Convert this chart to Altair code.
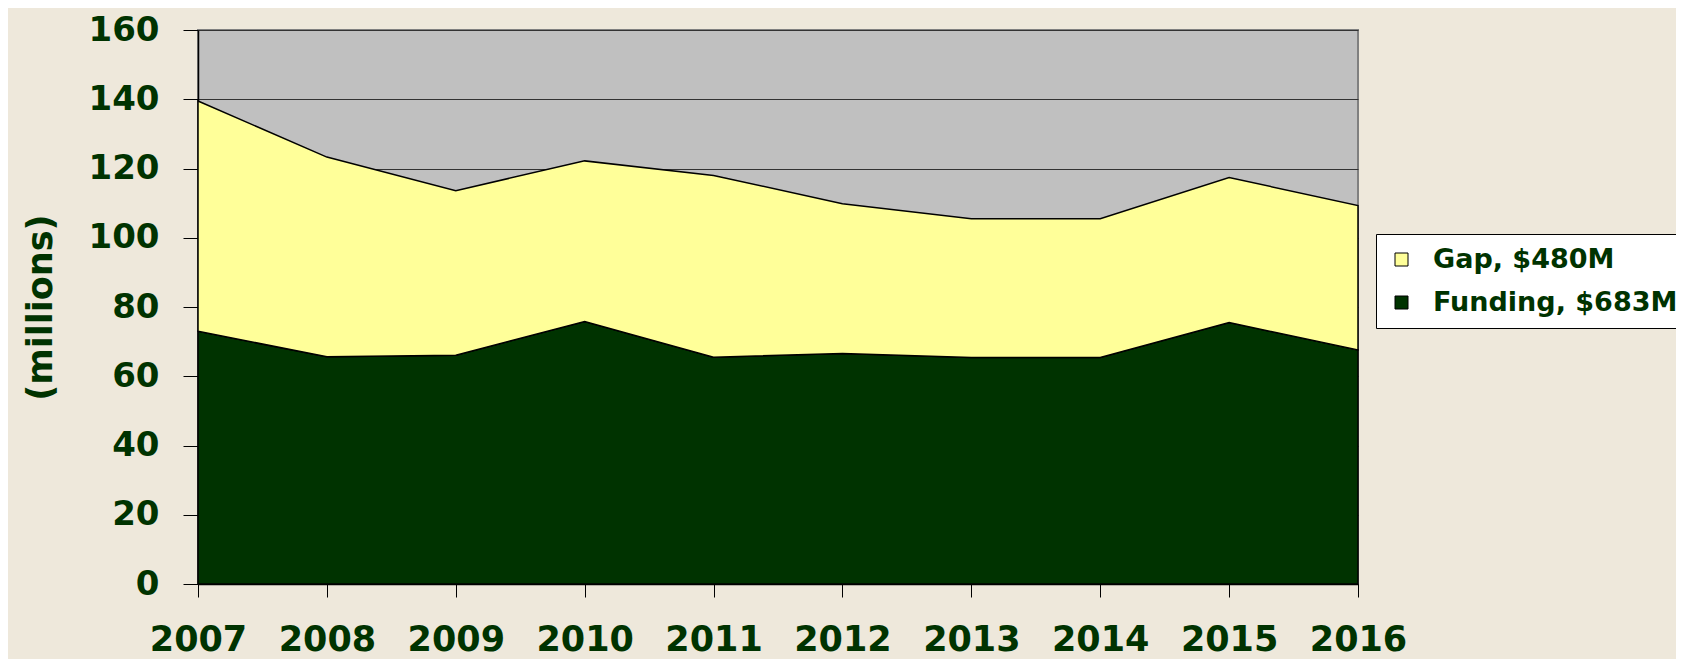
import altair as alt
import pandas as pd

years = [2007, 2008, 2009, 2010, 2011, 2012, 2013, 2014, 2015, 2016]
funding = [73.0, 65.6, 66.1, 75.8, 65.5, 66.6, 65.4, 65.4, 75.5, 67.6]
gap = [66.5, 57.7, 47.5, 46.4, 52.5, 43.2, 40.1, 40.1, 41.9, 41.7]

series_names = ["Gap, $480M", "Funding, $683M"]
series_colors = ["#FFFF99", "#003300"]
y_ticks = [0, 20, 40, 60, 80, 100, 120, 140, 160]

rows = []
for yr, f, g in zip(years, funding, gap):
    rows.append({"year": yr, "series": series_names[1], "value": f, "ord": 0})
    rows.append({"year": yr, "series": series_names[0], "value": g, "ord": 1})
df = pd.DataFrame(rows)

FONT = "DejaVu Sans"
TXT = "#003300"

chart = alt.Chart(df).mark_area(
    opacity=1, stroke="black", strokeWidth=1.5, strokeJoin="miter"
).encode(
    x=alt.X(
        "year:Q",
        scale=alt.Scale(domain=[2007, 2016], nice=False, zero=False),
        axis=alt.Axis(
            values=years, format="d", title=None, grid=False,
            domainColor="black", domainWidth=1.5,
            tickColor="black", tickSize=13, tickWidth=1,
            labelFont=FONT, labelFontWeight="bold", labelFontSize=35,
            labelColor=TXT, labelPadding=25, labelOverlap=False, labelFlush=False,
        ),
    ),
    y=alt.Y(
        "value:Q",
        stack="zero",
        scale=alt.Scale(domain=[0, 160], nice=False),
        axis=alt.Axis(
            values=y_ticks, title="(millions)", grid=True,
            gridColor="#333333", gridWidth=1,
            domainColor="black", domainWidth=1.5,
            tickColor="black", tickSize=15, tickWidth=1,
            labelFont=FONT, labelFontWeight="bold", labelFontSize=34,
            labelColor=TXT, labelPadding=24,
            titleFont=FONT, titleFontWeight="bold", titleFontSize=35,
            titleColor=TXT, titlePadding=30,
        ),
    ),
    color=alt.Color(
        "series:N",
        scale=alt.Scale(domain=series_names, range=series_colors),
        legend=alt.Legend(
            title=None, orient="none", legendX=1178, legendY=204,
            fillColor="white", strokeColor="black", padding=12,
            labelFont=FONT, labelFontWeight="bold", labelFontSize=27,
            labelColor=TXT, labelOffset=18, rowPadding=15, labelLimit=500,
            symbolType="square", symbolSize=169,
            symbolStrokeColor="black", symbolStrokeWidth=1, symbolOpacity=1,
        ),
    ),
    order=alt.Order("ord:Q"),
).properties(
    width=1160,
    height=554,
    padding={"left": 190, "top": 22, "right": 318, "bottom": 75},
    autosize=alt.AutoSizeParams(type="none"),
    background="#EEE8DB",
).configure_view(
    fill="#C0C0C0", stroke="#808080", strokeWidth=2
)

chart.save("out.html", embed_options={"renderer": "svg", "actions": False})
